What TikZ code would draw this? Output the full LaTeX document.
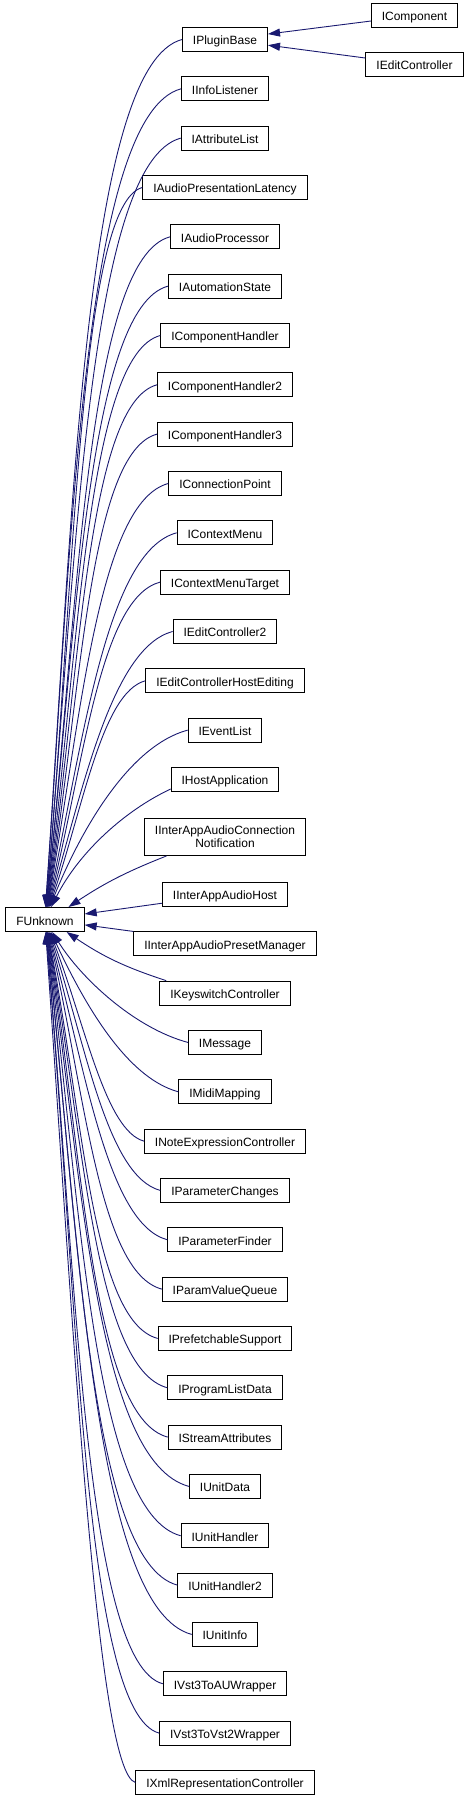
\documentclass[tikz,border=0pt]{standalone}
\usepackage{fontspec}
\setmainfont{Liberation Sans}
\usepackage{tikz}
\usetikzlibrary{arrows.meta,positioning}
\definecolor{edgeblue}{RGB}{25,25,112}
\tikzset{
  >={Triangle[length=12pt,width=8pt]},
  cls/.style={draw, line width=1pt, fill=white, font=\fontsize{12}{13.3}\selectfont, inner xsep=10.5pt, inner ysep=3pt, minimum height=24pt, text height=12pt, text depth=1pt},
  cls2/.style={draw, line width=1pt, fill=white, font=\fontsize{12}{13.3}\selectfont, inner xsep=10.5pt, inner ysep=3pt, minimum height=37pt, align=center},
  inh/.style={->, draw=edgeblue, line width=0.9pt},
}

\begin{document}
\begin{tikzpicture}[x=1pt, y=1pt, node distance=24.33pt]
  \useasboundingbox (0,0) rectangle (469,-1801);
  % base class
  \node[cls] (fu) at (45,-919.5) {FUnknown};
  % derived interfaces
  \node[cls] (plug) at (225,-39.5) {IPluginBase};
  \node[cls] (comp) at (414.5,-15.5) {IComponent};
  \node[cls] (edit) at (414.5,-64.5) {IEditController};
  \node[cls, below=of plug] (info) {IInfoListener};
  \node[cls, below=of info] (attr) {IAttributeList};
  \node[cls, below=of attr] (apl) {IAudioPresentationLatency};
  \node[cls, below=of apl] (aproc) {IAudioProcessor};
  \node[cls, below=of aproc] (autom) {IAutomationState};
  \node[cls, below=of autom] (ch) {IComponentHandler};
  \node[cls, below=of ch] (ch2) {IComponentHandler2};
  \node[cls, below=of ch2] (ch3) {IComponentHandler3};
  \node[cls, below=of ch3] (cpt) {IConnectionPoint};
  \node[cls, below=of cpt] (cmenu) {IContextMenu};
  \node[cls, below=of cmenu] (cmt) {IContextMenuTarget};
  \node[cls, below=of cmt] (ec2) {IEditController2};
  \node[cls, below=of ec2] (echost) {IEditControllerHostEditing};
  \node[cls, below=of echost] (evl) {IEventList};
  \node[cls, below=of evl] (host) {IHostApplication};
  \node[cls2, below=26pt of host] (iaconn) {IInterAppAudioConnection\\Notification};
  \node[cls, below=26pt of iaconn] (iahost) {IInterAppAudioHost};
  \node[cls, below=of iahost] (iapm) {IInterAppAudioPresetManager};
  \node[cls, below=of iapm] (keysw) {IKeyswitchController};
  \node[cls, below=of keysw] (msg) {IMessage};
  \node[cls, below=of msg] (midi) {IMidiMapping};
  \node[cls, below=of midi] (noteexp) {INoteExpressionController};
  \node[cls, below=of noteexp] (pchg) {IParameterChanges};
  \node[cls, below=of pchg] (pfind) {IParameterFinder};
  \node[cls, below=of pfind] (pvq) {IParamValueQueue};
  \node[cls, below=of pvq] (prefetch) {IPrefetchableSupport};
  \node[cls, below=of prefetch] (prog) {IProgramListData};
  \node[cls, below=of prog] (stream) {IStreamAttributes};
  \node[cls, below=of stream] (udata) {IUnitData};
  \node[cls, below=of udata] (uhand) {IUnitHandler};
  \node[cls, below=of uhand] (uhand2) {IUnitHandler2};
  \node[cls, below=of uhand2] (uinfo) {IUnitInfo};
  \node[cls, below=of uinfo] (vstau) {IVst3ToAUWrapper};
  \node[cls, below=of vstau] (vst2) {IVst3ToVst2Wrapper};
  \node[cls, below=of vst2] (xml) {IXmlRepresentationController};
  % inheritance edges
  \draw[inh] (comp) -- (plug);
  \draw[inh] (edit) -- (plug);
  \draw[inh] (plug.west) .. controls +(195:100) and +(86:400) .. (fu.88);
  \draw[inh] (info.west) .. controls +(195:100) and +(86:375) .. (fu.87);
  \draw[inh] (attr.west) .. controls +(195:95) and +(85:355) .. (fu.86);
  \draw[inh] (apl.west) .. controls +(195:65) and +(85:330) .. (fu.85);
  \draw[inh] (aproc.west) .. controls +(195:85) and +(84:310) .. (fu.84);
  \draw[inh] (autom.west) .. controls +(195:82) and +(84:285) .. (fu.83);
  \draw[inh] (ch.west) .. controls +(195:75) and +(83:265) .. (fu.82);
  \draw[inh] (ch2.west) .. controls +(195:72) and +(82:240) .. (fu.81);
  \draw[inh] (ch3.west) .. controls +(195:70) and +(81:220) .. (fu.80);
  \draw[inh] (cpt.west) .. controls +(195:72) and +(80:195) .. (fu.79);
  \draw[inh] (cmenu.west) .. controls +(195:72) and +(78:175) .. (fu.78);
  \draw[inh] (cmt.west) .. controls +(195:62) and +(76:150) .. (fu.76);
  \draw[inh] (ec2.west) .. controls +(195:62) and +(74:128) .. (fu.74);
  \draw[inh] (echost.west) .. controls +(195:45) and +(71:105) .. (fu.72);
  \draw[inh] (evl.west) .. controls +(195:60) and +(68:85) .. (fu.69);
  \draw[inh] (host.190) .. controls +(205:50) and +(63:62) .. (fu.64);
  \draw[inh] (iaconn.198) to[bend right=6] (fu.28);
  \draw[inh] (iahost) -- (fu);
  \draw[inh] (iapm) -- (fu);
  \draw[inh] (keysw.168) to[bend left=8] (fu.-30);
  \draw[inh] (msg.west) .. controls +(165:55) and +(-58:55) .. (fu.-60);
  \draw[inh] (midi.west) .. controls +(165:55) and +(-65:75) .. (fu.-65);
  \draw[inh] (noteexp.west) .. controls +(165:40) and +(-69:98) .. (fu.-69);
  \draw[inh] (pchg.west) .. controls +(165:55) and +(-72:120) .. (fu.-72);
  \draw[inh] (pfind.west) .. controls +(165:62) and +(-75:142) .. (fu.-74);
  \draw[inh] (pvq.west) .. controls +(165:65) and +(-77:165) .. (fu.-76);
  \draw[inh] (prefetch.west) .. controls +(165:68) and +(-79:188) .. (fu.-78);
  \draw[inh] (prog.west) .. controls +(165:75) and +(-80:210) .. (fu.-79);
  \draw[inh] (stream.west) .. controls +(165:78) and +(-81:232) .. (fu.-80);
  \draw[inh] (udata.west) .. controls +(165:95) and +(-82:255) .. (fu.-81);
  \draw[inh] (uhand.west) .. controls +(165:90) and +(-83:278) .. (fu.-82);
  \draw[inh] (uhand2.west) .. controls +(165:90) and +(-84:300) .. (fu.-83);
  \draw[inh] (uinfo.west) .. controls +(165:100) and +(-84:322) .. (fu.-84);
  \draw[inh] (vstau.west) .. controls +(165:80) and +(-85:345) .. (fu.-85);
  \draw[inh] (vst2.west) .. controls +(165:78) and +(-85:368) .. (fu.-86);
  \draw[inh] (xml.west) .. controls +(165:40) and +(-86:390) .. (fu.-87);
\end{tikzpicture}
\end{document}
